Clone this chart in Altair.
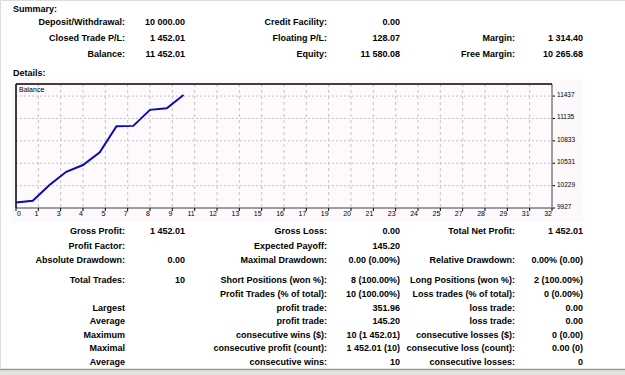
import altair as alt
import pandas as pd

# ---------------- data ----------------
balance = [10000.00, 10025.00, 10237.00, 10416.00, 10507.00, 10678.00,
           11030.00, 11035.00, 11251.00, 11274.00, 11452.01]
trade_idx = list(range(len(balance)))

y_tick_values = [9927, 10229, 10531, 10833, 11135, 11437]
x_tick_labels = ["0", "1", "3", "4", "5", "7", "8", "9", "11", "12", "13", "15", "16",
                 "17", "19", "20", "21", "23", "24", "25", "27", "28", "29", "31", "32"]

sum_labels = [["Deposit/Withdrawal:", "Closed Trade P/L:", "Balance:"],
              ["Credit Facility:", "Floating P/L:", "Equity:"],
              ["", "Margin:", "Free Margin:"]]
sum_values = [["10 000.00", "1 452.01", "11 452.01"],
              ["0.00", "128.07", "11 580.08"],
              ["", "1 314.40", "10 265.68"]]

det_labels = [["Gross Profit:", "Profit Factor:", "Absolute Drawdown:", "Total Trades:", "",
               "Largest", "Average", "Maximum", "Maximal", "Average"],
              ["Gross Loss:", "Expected Payoff:", "Maximal Drawdown:", "Short Positions (won %):",
               "Profit Trades (% of total):", "profit trade:", "profit trade:",
               "consecutive wins ($):", "consecutive profit (count):", "consecutive wins:"],
              ["Total Net Profit:", "", "Relative Drawdown:", "Long Positions (won %):",
               "Loss trades (% of total):", "loss trade:", "loss trade:",
               "consecutive losses ($):", "consecutive loss (count):", "consecutive losses:"]]
det_values = [["1 452.01", "", "0.00", "10", "", "", "", "", "", ""],
              ["0.00", "145.20", "0.00 (0.00%)", "8 (100.00%)", "10 (100.00%)", "351.96",
               "145.20", "10 (1 452.01)", "1 452.01 (10)", "10"],
              ["1 452.01", "", "0.00% (0.00)", "2 (100.00%)", "0 (0.00%)", "0.00", "0.00",
               "0 (0.00)", "0.00 (0)", "0"]]
headers = ["Summary:", "Details:"]

# ---------------- layout ----------------
W, H = 625, 375
FONT = "Liberation Sans, Arial"
FS = 9
label_x = [125, 327, 515]
value_x = [185, 400, 583]
sum_rows_y = [22, 38, 54]
det_rows_y = [231, 246, 260, 280, 294, 308, 321, 335, 348, 362]
header_pos = [(13, 9), (13, 73)]
PL, PR, PT, PB = 16, 552, 84, 208
Y_DOMAIN = [9927, 11600]
X_DOMAIN = [0, 32]

rows = []
for rows_y, labs, vals in [(sum_rows_y, sum_labels, sum_values), (det_rows_y, det_labels, det_values)]:
    for c in range(3):
        for r, yy in enumerate(rows_y):
            if labs[c][r]:
                rows.append(dict(t=labs[c][r], x=label_x[c], y=yy))
            if vals[c][r]:
                rows.append(dict(t=vals[c][r], x=value_x[c], y=yy))
table_df = pd.DataFrame(rows)
head_df = pd.DataFrame([dict(t=h, x=p[0], y=p[1]) for h, p in zip(headers, header_pos)])

tx = alt.X("x:Q", scale=None, axis=None)
ty = alt.Y("y:Q", scale=None, axis=None)
table_text = alt.Chart(table_df).mark_text(align="right", baseline="middle", font=FONT,
                                           fontSize=FS, fontWeight="bold", color="#000"
                                           ).encode(x=tx, y=ty, text="t:N")
head_text = alt.Chart(head_df).mark_text(align="left", baseline="middle", font=FONT,
                                         fontSize=FS, fontWeight="bold", color="#000"
                                         ).encode(x=tx, y=ty, text="t:N")
table = alt.layer(table_text, head_text)

# ---------------- plot ----------------
xs = alt.Scale(domain=X_DOMAIN, range=[PL, PR], nice=False, zero=False)
ys = alt.Scale(domain=Y_DOMAIN, range=[PB, PT], nice=False, zero=False)
one = pd.DataFrame({"a": [0]})

bg = alt.Chart(one).mark_rect(color="#fcf8fc").encode(
    x=alt.value(12), x2=alt.value(583), y=alt.value(80), y2=alt.value(222))
plot_bg = alt.Chart(one).mark_rect(color="#fdf9fd").encode(
    x=alt.value(PL), x2=alt.value(PR), y=alt.value(PT), y2=alt.value(PB))

xt_df = pd.DataFrame({"pos": [i * X_DOMAIN[1] / (len(x_tick_labels) - 1) for i in range(len(x_tick_labels))],
                      "lab": x_tick_labels})
yt_df = pd.DataFrame({"v": y_tick_values, "lab": [str(v) for v in y_tick_values]})

vgrid = alt.Chart(xt_df.iloc[1:-1]).mark_rule(color="#c4c4c4", strokeDash=[3, 3], strokeWidth=1).encode(
    x=alt.X("pos:Q", scale=xs, axis=None), y=alt.value(PT), y2=alt.value(PB))
hgrid = alt.Chart(yt_df.iloc[1:]).mark_rule(color="#c4c4c4", strokeDash=[2, 2], strokeWidth=1).encode(
    y=alt.Y("v:Q", scale=ys, axis=None), x=alt.value(PL), x2=alt.value(PR))

xticks = alt.Chart(xt_df).mark_rule(color="#000", strokeWidth=1).encode(
    x=alt.X("pos:Q", scale=xs, axis=None), y=alt.value(PB), y2=alt.value(PB + 3))
yticks = alt.Chart(yt_df).mark_rule(color="#000", strokeWidth=1).encode(
    y=alt.Y("v:Q", scale=ys, axis=None), x=alt.value(PR), x2=alt.value(PR + 3))

xlab_first = alt.Chart(xt_df.iloc[:1]).mark_text(align="left", baseline="middle", font=FONT,
                                                 fontSize=7, dx=1, color="#000").encode(
    x=alt.X("pos:Q", scale=xs, axis=None), y=alt.value(214), text="lab:N")
xlab_rest = alt.Chart(xt_df.iloc[1:]).mark_text(align="right", baseline="middle", font=FONT,
                                                fontSize=7, dx=0, color="#000").encode(
    x=alt.X("pos:Q", scale=xs, axis=None), y=alt.value(214), text="lab:N")
ylab = alt.Chart(yt_df).mark_text(align="left", baseline="middle", font=FONT,
                                  fontSize=6.5, dx=0, dy=-1, color="#000").encode(
    y=alt.Y("v:Q", scale=ys, axis=None), x=alt.value(PR + 5), text="lab:N")

frame_dark = alt.Chart(one).mark_rule(color="#000", strokeWidth=1.5).encode(
    x=alt.value(PL), x2=alt.value(PR), y=alt.value(PT), y2=alt.value(PT))
frame_dark2 = alt.Chart(one).mark_rule(color="#000", strokeWidth=1.5).encode(
    x=alt.value(PL), x2=alt.value(PL), y=alt.value(PT), y2=alt.value(PB))
frame_r = alt.Chart(one).mark_rule(color="#808080", strokeWidth=1.5).encode(
    x=alt.value(PR), x2=alt.value(PR), y=alt.value(PT), y2=alt.value(PB))
frame_b = alt.Chart(one).mark_rule(color="#404040", strokeWidth=1).encode(
    x=alt.value(PL), x2=alt.value(PR), y=alt.value(PB), y2=alt.value(PB))

line_df = pd.DataFrame({"i": trade_idx, "b": balance})
line = alt.Chart(line_df).mark_line(color="#0c0ca8", strokeWidth=2).encode(
    x=alt.X("i:Q", scale=xs, axis=None), y=alt.Y("b:Q", scale=ys, axis=None))

bal_lab = alt.Chart(one).mark_text(align="left", baseline="middle", font=FONT, fontSize=7,
                                   color="#000", text="Balance").encode(
    x=alt.value(PL + 3), y=alt.value(PT + 6))

sep_fill = alt.Chart(one).mark_rect(color="#e6e4e0").encode(
    x=alt.value(0), x2=alt.value(W), y=alt.value(369), y2=alt.value(H))
sep_line = alt.Chart(one).mark_rule(color="#9a9a9a", strokeWidth=1.5).encode(
    x=alt.value(0), x2=alt.value(W), y=alt.value(369.5), y2=alt.value(369.5))

plot = alt.layer(bg, plot_bg, vgrid, hgrid, frame_b, xticks, yticks, frame_r,
                 frame_dark, frame_dark2, line, bal_lab, xlab_first, xlab_rest, ylab,
                 sep_fill, sep_line)

chart = alt.layer(table, plot).resolve_scale(x="independent", y="independent").properties(
    width=W, height=H, autosize="none", padding=0
).configure_view(stroke=None).configure(background="white")

chart.save("out.html", embed_options={"renderer": "svg", "actions": False})
